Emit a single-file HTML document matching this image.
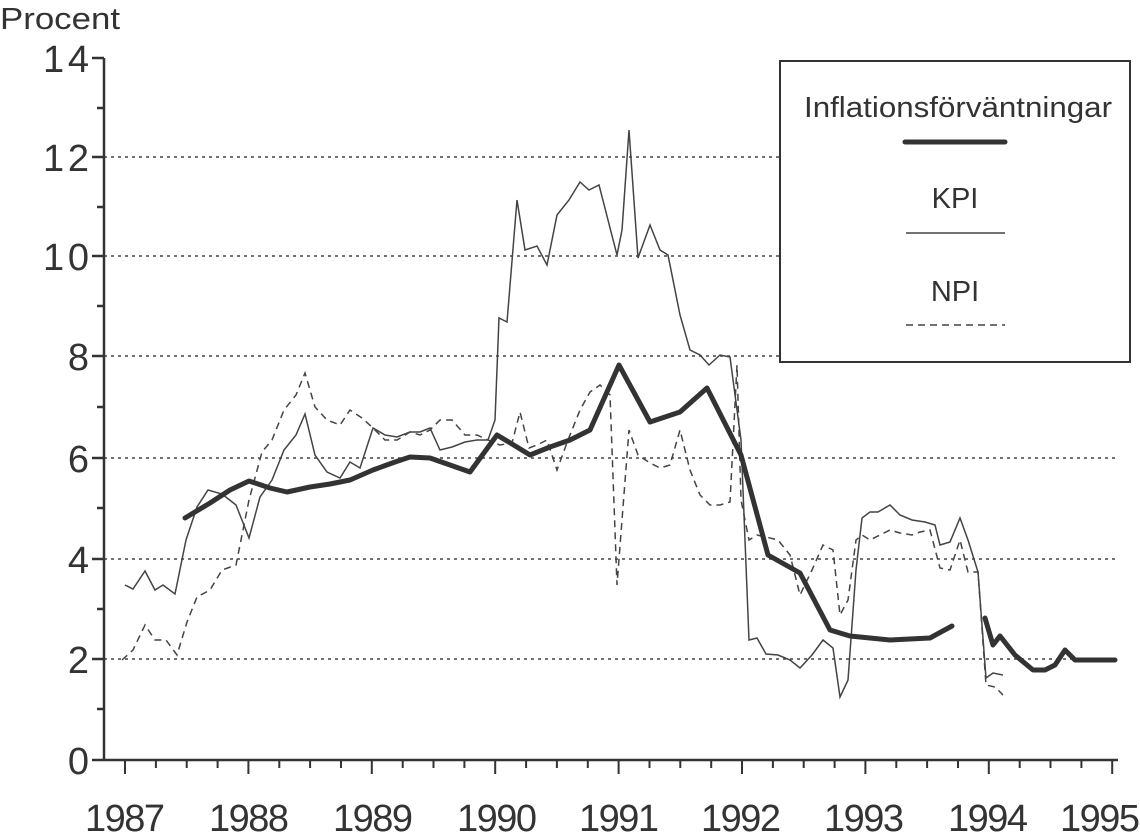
<!DOCTYPE html>
<html><head><meta charset="utf-8"><style>
html,body{margin:0;padding:0;background:#fff;}
svg{display:block;font-family:"Liberation Sans",sans-serif;fill:#333;}
</style></head><body>
<svg width="1140" height="834" viewBox="0 0 1140 834" xmlns="http://www.w3.org/2000/svg">
<g stroke="#444" stroke-width="1.5" stroke-dasharray="3,4" fill="none">
<line x1="104" y1="659" x2="1118" y2="659"/>
<line x1="104" y1="559" x2="1118" y2="559"/>
<line x1="104" y1="458" x2="1118" y2="458"/>
<line x1="104" y1="356" x2="780" y2="356"/>
<line x1="104" y1="256" x2="780" y2="256"/>
<line x1="104" y1="157" x2="780" y2="157"/>
</g>
<g stroke="#333" stroke-width="2.5" fill="none">
<line x1="104" y1="58" x2="104" y2="761"/>
<line x1="92" y1="760" x2="1118" y2="760"/>
<line x1="92" y1="58" x2="104" y2="58"/>
<line x1="92" y1="157" x2="104" y2="157"/>
<line x1="92" y1="256" x2="104" y2="256"/>
<line x1="92" y1="356" x2="104" y2="356"/>
<line x1="92" y1="458" x2="104" y2="458"/>
<line x1="92" y1="559" x2="104" y2="559"/>
<line x1="92" y1="659" x2="104" y2="659"/>
<line x1="97" y1="108" x2="104" y2="108"/>
<line x1="97" y1="207" x2="104" y2="207"/>
<line x1="97" y1="306" x2="104" y2="306"/>
<line x1="97" y1="407" x2="104" y2="407"/>
<line x1="97" y1="508" x2="104" y2="508"/>
<line x1="97" y1="609" x2="104" y2="609"/>
<line x1="97" y1="709" x2="104" y2="709"/>
</g>
<g stroke="#333" stroke-width="2">
<path d="M125 760v14M155.9 760v8M186.7 760v8M217.6 760v8M248.4 760v14M279.3 760v8M310.1 760v8M341 760v8M371.8 760v14M402.7 760v8M433.5 760v8M464.4 760v8M495.2 760v14M526.1 760v8M556.9 760v8M587.8 760v8M618.6 760v14M649.5 760v8M680.3 760v8M711.2 760v8M742 760v14M772.9 760v8M803.7 760v8M834.6 760v8M865.4 760v14M896.3 760v8M927.1 760v8M958 760v8M988.8 760v14M1019.7 760v8M1050.5 760v8M1081.4 760v8M1112.2 760v14"/>
</g>
<g font-size="38" text-anchor="end">
<text x="89" y="774" textLength="22">0</text><text x="89" y="673" textLength="22">2</text><text x="89" y="573" textLength="22">4</text>
<text x="89" y="472" textLength="22">6</text><text x="89" y="370" textLength="22">8</text><text x="89" y="270" textLength="46">10</text>
<text x="89" y="171" textLength="46">12</text><text x="89" y="72" textLength="46">14</text>
</g>
<text x="0" y="29" font-size="31" textLength="120" lengthAdjust="spacingAndGlyphs">Procent</text>
<g font-size="38" text-anchor="middle">
<text x="125" y="831" textLength="80">1987</text><text x="249" y="831" textLength="80">1988</text><text x="373" y="831" textLength="80">1989</text>
<text x="497" y="831" textLength="80">1990</text><text x="619" y="831" textLength="80">1991</text><text x="741" y="831" textLength="80">1992</text>
<text x="864" y="831" textLength="80">1993</text><text x="988" y="831" textLength="80">1994</text><text x="1100" y="831" textLength="80">1995</text>
</g>
<polyline fill="none" stroke="#444" stroke-width="1.5" points="125,585 133,589 145,571 155,590 163,585 175,594 186,540 197,507 208,490 222,494 236,505 249,538 260,497 272,480 284,450 296,435 305,414 315,455 327,472 340,478 350,462 360,468 373,428 385,435 397,437 410,432 420,432 430,428 440,450 452,447 465,442 477,440 488,440 495,420 499,318 507,322 517,200 525,250 537,246 547,265 557,215 569,200 580,182 589,190 599,185 617,255 622,230 629,130 638,258 650,225 660,250 668,255 680,315 690,350 700,355 709,365 720,355 730,357 741,440 749,640 757,638 766,654 778,655 790,660 800,668 812,655 823,640 833,648 840,697 848,680 856,570 862,518 870,512 878,512 890,505 900,515 912,520 925,522 935,525 940,545 950,542 960,518 968,540 978,572 986,678 993,673 1003,675"/>
<polyline fill="none" stroke="#444" stroke-width="1.5" stroke-dasharray="7,5" points="122,660 133,650 145,625 155,640 166,640 177,655 187,622 197,597 210,590 222,570 236,565 249,500 262,452 272,440 284,410 296,395 305,373 315,407 327,420 340,425 350,410 362,418 373,428 385,440 397,440 410,432 420,435 430,430 440,420 452,420 465,435 477,435 488,440 500,445 512,443 520,412 529,448 537,445 547,440 557,470 568,440 580,410 590,392 600,385 610,395 617,585 622,520 629,430 638,455 650,463 660,468 670,465 680,430 690,470 700,495 710,505 720,505 730,502 737,365 741,500 749,540 757,535 766,537 778,540 790,555 800,595 812,570 823,545 833,550 840,615 848,600 856,540 862,535 870,540 880,535 890,530 900,533 912,535 920,532 930,530 940,568 950,570 960,540 968,572 978,572 986,685 995,687 1003,695"/>
<g fill="none" stroke="#333" stroke-width="5" stroke-linejoin="round" stroke-linecap="round">
<polyline points="185,518 210,503 230,490 249,481 270,488 287,492 310,487 330,484 350,480 373,470 395,462 410,457 430,458 450,465 470,472 497,435 512,444 530,455 550,447 570,440 590,430 619,365 650,422 680,412 707,388 741,455 768,555 800,573 830,630 850,636 870,638 890,640 930,638 952,626"/>
<polyline points="985,618 993,645 1000,636 1015,655 1033,670 1045,670 1055,665 1065,650 1075,660 1115,660"/>
</g>
<rect x="780" y="61" width="350" height="301" fill="#fff" stroke="#333" stroke-width="2"/>
<g font-size="29" text-anchor="middle">
<text x="958" y="117" textLength="308" lengthAdjust="spacingAndGlyphs">Inflationsförväntningar</text>
<text x="955" y="208">KPI</text>
<text x="955" y="301">NPI</text>
</g>
<line x1="905" y1="142" x2="1005" y2="142" stroke="#333" stroke-width="5" stroke-linecap="round"/>
<line x1="906" y1="233" x2="1005" y2="233" stroke="#444" stroke-width="1.5"/>
<line x1="906" y1="325" x2="1005" y2="325" stroke="#444" stroke-width="1.5" stroke-dasharray="7,5"/>
</svg>
</body></html>
